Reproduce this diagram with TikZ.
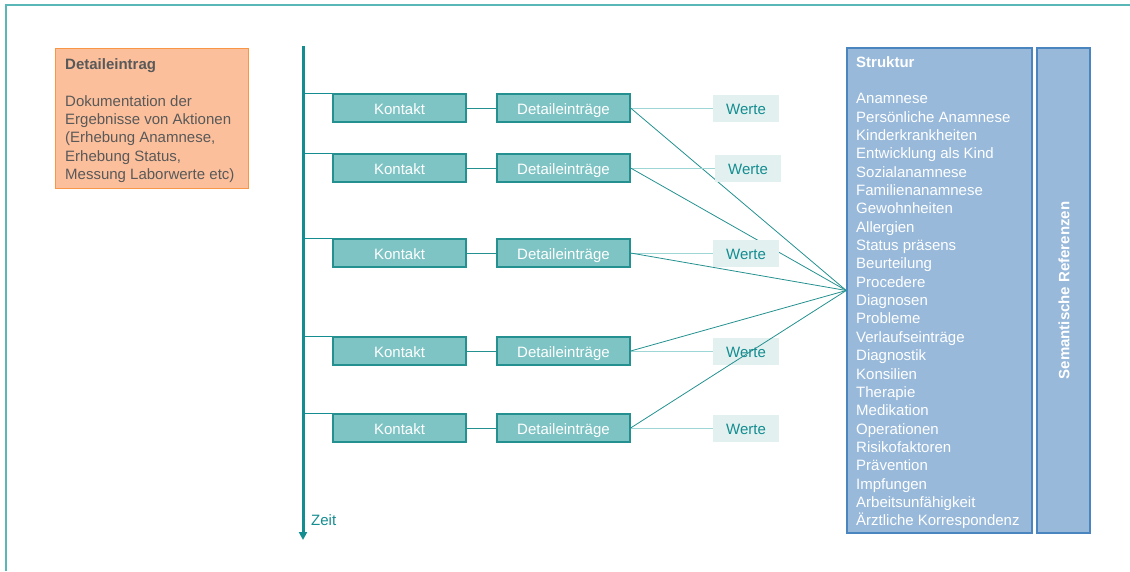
\documentclass[tikz,border=0pt]{standalone}
\usepackage{fontspec}
\setmainfont{Liberation Sans}
\usetikzlibrary{arrows.meta}
\definecolor{frameteal}{HTML}{5AB7B7}
\definecolor{tealdark}{HTML}{138D90}
\definecolor{boxfill}{HTML}{7FC4C4}
\definecolor{boxline}{HTML}{24908F}
\definecolor{wertefill}{HTML}{E2F0F0}
\definecolor{werteline}{HTML}{9ED5D5}
\definecolor{orangefill}{HTML}{FCBF9B}
\definecolor{orangeline}{HTML}{F79646}
\definecolor{greytext}{HTML}{595959}
\definecolor{bluefill}{HTML}{98B9DA}
\definecolor{blueline}{HTML}{4A85C0}
\begin{document}
\begin{tikzpicture}[x=1pt,y=-1pt,
  every node/.style={font=\fontsize{15}{18.35}\selectfont},
  tealbox/.style={draw=boxline, line width=1.2pt, fill=boxfill, text=white,
    minimum width=133pt, minimum height=28pt, inner sep=0pt,
    text height=13pt, text depth=1pt},
  wertebox/.style={fill=wertefill, text=tealdark, minimum width=66pt,
    minimum height=27pt, inner sep=0pt, text height=13pt, text depth=1pt},
  bluebox/.style={draw=blueline, line width=1.5pt, fill=bluefill,
    minimum width=185pt, minimum height=485pt, inner sep=0pt},
  textblock/.style={anchor=north west, inner sep=0pt, align=left},
  tlconn/.style={draw=tealdark, line width=1.2pt},
  kdconn/.style={draw=boxline, line width=1pt},
  werteconn/.style={draw=werteline, line width=1pt},
  hubconn/.style={draw=boxline, line width=0.8pt},
  timeline/.style={draw=tealdark, line width=3pt, -{Triangle[width=8pt,length=8pt]}}
]
\useasboundingbox (0,0) rectangle (1130,571);
% frame
\draw[frameteal, line width=1.5pt] (6,571) -- (6,5) -- (1130,5);

% orange box
\node[draw=orangeline, line width=1.2pt, fill=orangefill, minimum width=193pt,
  minimum height=140pt, inner sep=0pt, anchor=north west] (obox) at (55,48) {};
\node[textblock, text=greytext] (otext) at (65,58.3)
  {\textbf{Detaileintrag}\\[18.35pt]Dokumentation der\\Ergebnisse von Aktionen\\(Erhebung Anamnese,\\Erhebung Status,\\Messung Laborwerte etc)};

% timeline
\coordinate (tltop) at (303,46);
\coordinate (tlend) at (303,540);
\draw[timeline] (tltop) -- (tlend);
\node[text=tealdark, anchor=west, inner sep=0pt] (zeit) at (311,520) {Zeit};

% structure boxes
\node[bluebox] (struktur) at (939.5,290.5) {};
\node[textblock, text=white] (stext) at (856,56)
  {\textbf{Struktur}\\[18.35pt]Anamnese\\Persönliche Anamnese\\Kinderkrankheiten\\Entwicklung als Kind\\Sozialanamnese\\Familienanamnese\\Gewohnheiten\\Allergien\\Status präsens\\Beurteilung\\Procedere\\Diagnosen\\Probleme\\Verlaufseinträge\\Diagnostik\\Konsilien\\Therapie\\Medikation\\Operationen\\Risikofaktoren\\Prävention\\Impfungen\\Arbeitsunfähigkeit\\Ärztliche Korrespondenz};
\node[bluebox, minimum width=53pt] (semref) at (1063.5,290.5) {};
\node[text=white, rotate=90, inner sep=0pt] (semtext) at (1064,290.5) {\textbf{Semantische Referenzen}};

% rows
\foreach \i/\y/\wx in {1/108/746,2/168/748,3/253/746,4/351/746,5/428/746}{
  \node[tealbox] (k\i) at (399.5,\y) {Kontakt};
  \node[tealbox] (d\i) at (563.5,\y) {Detaileinträge};
  \node[wertebox] (w\i) at (\wx,\y) {Werte};
  \draw[tlconn] (tltop |- k\i.north west) -- (k\i.north west);
  \draw[kdconn] (k\i.east) -- (d\i.west);
  \draw[werteconn] (d\i.east) -- (w\i.west);
  \draw[hubconn] (d\i.east) -- (struktur.west);
}
\end{tikzpicture}
\end{document}
